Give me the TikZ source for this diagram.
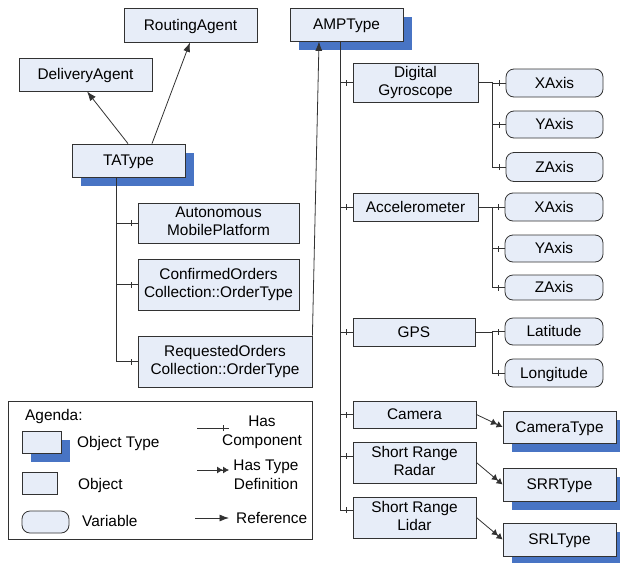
\documentclass[tikz,border=0pt]{standalone}
\usepackage{fontspec}
\setmainfont{Liberation Sans}
\usetikzlibrary{arrows.meta,shadows,decorations.markings}
\definecolor{boxfill}{RGB}{231,237,248}
\definecolor{shadowblue}{RGB}{72,116,196}
\definecolor{linec}{RGB}{50,50,50}
\newcommand{\lnstrut}{\rule[-0.212em]{0pt}{1.117em}}
\tikzset{
  basebox/.style={draw=linec, line width=0.8pt, fill=boxfill, inner sep=0pt, align=center,
    font=\fontsize{15.4}{18.5}\selectfont, execute at begin node=\lnstrut, execute at end node=\lnstrut},
  obj/.style={basebox, rectangle},
  otype/.style={basebox, rectangle, general shadow={shadow xshift=8.5pt, shadow yshift=-8.5pt, fill=shadowblue, draw=none}},
  var/.style={basebox, rounded corners=8pt},
  lbl/.style={inner sep=0pt, align=center, font=\fontsize{15.4}{18.5}\selectfont,
    execute at begin node=\lnstrut, execute at end node=\lnstrut},
  conn/.style={draw=linec, line width=0.8pt},
  comp/.style={conn, postaction={decorate, decoration={markings,
      mark=at position -6pt with {\draw[linec, line width=0.8pt] (0,-3pt) -- (0,3pt);}}}},
  reftip/.style={conn, -{Latex[length=9.5pt,width=7pt]}},
  typedef/.style={conn, -{Latex[length=6pt,width=7pt]Latex[length=6pt,width=7pt]}},
}
\begin{document}
\begin{tikzpicture}[x=1pt,y=-1pt]
\useasboundingbox (0,0) rectangle (620,562);

% left tree
\node[obj, minimum width=133pt, minimum height=34pt] (RA) at (190.5,25) {RoutingAgent};
\node[obj, minimum width=133pt, minimum height=33pt] (DA) at (85.5,74.5) {DeliveryAgent};
\node[otype, minimum width=113pt, minimum height=33pt] (TA) at (128.5,160.5) {TAType};
\node[obj, minimum width=161pt, minimum height=40pt] (AMP0) at (218.5,223) {Autonomous\\MobilePlatform};
\node[obj, minimum width=161pt, minimum height=51pt] (CO) at (218.5,284.5) {ConfirmedOrders\\Collection::OrderType};
\node[obj, minimum width=174pt, minimum height=51pt] (RO) at (225,361.5) {RequestedOrders\\Collection::OrderType};

% right tree
\node[otype, minimum width=113pt, minimum height=33pt] (AT) at (346.5,24.5) {AMPType};
\node[obj, minimum width=125pt, minimum height=39pt] (DG) at (415.5,82.5) {Digital\\Gyroscope};
\node[var, minimum width=97pt, minimum height=28pt] (X1) at (554.5,83) {XAxis};
\node[var, minimum width=97pt, minimum height=27pt] (Y1) at (554.5,124.5) {YAxis};
\node[var, minimum width=97pt, minimum height=29pt] (Z1) at (554.5,167) {ZAxis};
\node[obj, minimum width=125pt, minimum height=28pt] (AC) at (415.5,207) {Accelerometer};
\node[var, minimum width=98pt, minimum height=28pt] (X2) at (554,207) {XAxis};
\node[var, minimum width=98pt, minimum height=27pt] (Y2) at (554,248.5) {YAxis};
\node[var, minimum width=98pt, minimum height=25pt] (Z2) at (554,287.5) {ZAxis};
\node[obj, minimum width=122pt, minimum height=28pt] (GPS) at (414,332) {GPS};
\node[var, minimum width=98pt, minimum height=27pt] (LA) at (554,331.5) {Latitude};
\node[var, minimum width=98pt, minimum height=28pt] (LO) at (554,373) {Longitude};
\node[obj, minimum width=123pt, minimum height=27pt] (CAM) at (414.5,414.5) {Camera};
\node[otype, minimum width=113pt, minimum height=32pt] (CAMT) at (559.5,427) {CameraType};
\node[obj, minimum width=123pt, minimum height=41pt] (SRR) at (414.5,462.5) {Short Range\\Radar};
\node[otype, minimum width=113pt, minimum height=33pt] (SRRT) at (559.5,484.5) {SRRType};
\node[obj, minimum width=123pt, minimum height=41pt] (SRL) at (414.5,517.5) {Short Range\\Lidar};
\node[otype, minimum width=113pt, minimum height=33pt] (SRLT) at (559.5,539.5) {SRLType};

% reference arrows
\draw[reftip] ([xshift=-0.5pt]TA.north) -- ([xshift=1.5pt]DA.south);
\draw[reftip] ([xshift=23.5pt]TA.north) -- ([xshift=-0.5pt]RA.south);
\draw[reftip] (RO.north east) -- ([xshift=-27.5pt]AT.south);

% TAType components
\coordinate (tab) at ([xshift=-12.5pt]TA.south);
\draw[conn] (tab) -- (tab |- RO.west);
\draw[comp] (tab |- AMP0.west) -- (AMP0.west);
\draw[comp] (tab |- CO.west) -- (CO.west);
\draw[comp] (tab |- RO.west) -- (RO.west);

% AMPType components
\coordinate (amb) at ([xshift=-6.5pt]AT.south);
\draw[conn] (amb) -- ([yshift=7.5pt]amb |- SRL.west);
\draw[comp] (amb |- DG.west) -- (DG.west);
\draw[comp] (amb |- AC.west) -- (AC.west);
\draw[comp] (amb |- GPS.west) -- (GPS.west);
\draw[comp] (amb |- CAM.west) -- (CAM.west);
\draw[comp] ([yshift=6.5pt]amb |- SRR.west) -- ([yshift=6.5pt]SRR.west);
\draw[comp] ([yshift=7.5pt]amb |- SRL.west) -- ([yshift=7.5pt]SRL.west);

% sensor variables
\coordinate (gb) at ([xshift=14pt]DG.east);
\draw[conn] (DG.east) -- (gb) -- (gb |- Z1.west);
\draw[comp] (gb |- X1.west) -- (X1.west);
\draw[comp] (gb |- Y1.west) -- (Y1.west);
\draw[comp] (gb |- Z1.west) -- (Z1.west);
\coordinate (ab) at ([xshift=14pt]AC.east);
\draw[conn] (AC.east) -- (ab) -- (ab |- Z2.west);
\draw[comp] (ab |- X2.west) -- (X2.west);
\draw[comp] (ab |- Y2.west) -- (Y2.west);
\draw[comp] (ab |- Z2.west) -- (Z2.west);
\coordinate (pb) at ([xshift=17pt]GPS.east);
\draw[conn] (GPS.east) -- (pb) -- (pb |- LO.west);
\draw[comp] (pb |- LA.west) -- (LA.west);
\draw[comp] (pb |- LO.west) -- (LO.west);

% type definitions
\draw[typedef] (CAM.east) -- (CAMT.west);
\draw[typedef] (SRR.east) -- (SRRT.west);
\draw[typedef] (SRL.east) -- (SRLT.west);

% legend
\node[draw=linec, line width=0.8pt, fill=white, minimum width=304pt, minimum height=138pt, inner sep=0pt] (LEG) at (160,470) {};
\node[lbl, anchor=west] (ag) at (25,415) {Agenda:};
\node[otype, minimum width=39pt, minimum height=22pt, execute at begin node={}, execute at end node={}] (iOT) at (41.5,442) {};
\node[lbl, anchor=west] (tOT) at (77,442) {Object Type};
\node[obj, minimum width=35pt, minimum height=22pt, execute at begin node={}, execute at end node={}] (iO) at (39.5,483) {};
\node[lbl, anchor=west] (tO) at (78,484) {Object};
\node[var, minimum width=47pt, minimum height=22pt, execute at begin node={}, execute at end node={}] (iV) at (45.5,522) {};
\node[lbl, anchor=west] (tV) at (82,521) {Variable};
\coordinate (hc1) at (197,428);
\coordinate (hc2) at (229,428);
\draw[comp] (hc1) -- (hc2);
\node[lbl] (tHC) at (262,432.5) {Has\\Component};
\coordinate (ht1) at (197,470);
\coordinate (ht2) at (229,470);
\draw[typedef] (ht1) -- (ht2);
\node[lbl] (tHT) at (266,476.5) {Has Type\\Definition};
\coordinate (rf1) at (195,518);
\coordinate (rf2) at (229,518);
\draw[reftip] (rf1) -- (rf2);
\node[lbl, anchor=west] (tRF) at (236,518) {Reference};
\end{tikzpicture}
\end{document}
